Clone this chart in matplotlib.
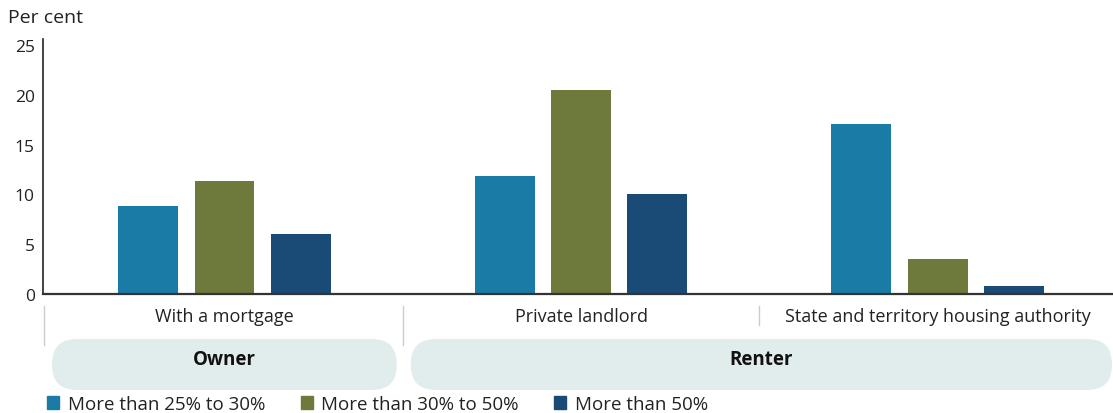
import matplotlib

matplotlib.use("Agg")
import matplotlib.pyplot as plt
import numpy as np
from matplotlib.patches import FancyBboxPatch, Patch

plt.rcParams["font.family"] = ["Open Sans", "DejaVu Sans"]

CATEGORIES = ["With a mortgage", "Private landlord", "State and territory housing authority"]
GROUPS = ["Owner", "Renter"]
GROUP_SPANS = [(0, 0), (1, 2)]   # category index range per tenure group
SERIES = ["More than 25% to 30%", "More than 30% to 50%", "More than 50%"]
VALUES = {
    "More than 25% to 30%": [8.8, 11.8, 17.1],
    "More than 30% to 50%": [11.3, 20.5, 3.5],
    "More than 50%": [6.0, 10.0, 0.8],
}
COLORS = ["#1a7ca6", "#6e7a3c", "#194b76"]
YTICKS = [0, 5, 10, 15, 20, 25]

W, H = 1113, 414
AX_LEFT = 43   # px, left spine
fig = plt.figure(figsize=(W / 100, H / 100), dpi=100)
ax = fig.add_axes([AX_LEFT / W, 1 - 295 / H, 1 - AX_LEFT / W, (295 - 40) / H])

x = np.arange(len(CATEGORIES))
step = 0.214
for i, (name, col) in enumerate(zip(SERIES, COLORS)):
    ax.bar(x + (i - 1) * step, VALUES[name], width=0.168, color=col, label=name, zorder=2)

ax.set_xlim(-0.509, 2.492)
ax.set_ylim(0, 25.6)
ax.set_yticks(YTICKS)
ax.set_yticklabels([str(t) for t in YTICKS], fontsize=12.5, color="#222222")
ax.set_xticks([])
ax.tick_params(axis="y", length=0, pad=6)
for s in ["top", "right"]:
    ax.spines[s].set_visible(False)
ax.spines["left"].set_color("#222222")
ax.spines["left"].set_linewidth(1.2)
ax.spines["bottom"].set_color("#333333")
ax.spines["bottom"].set_linewidth(1.6)

fig.text(8 / W, 1 - 18 / H, "Per cent", fontsize=14, color="#222222", va="center", ha="left")

# ── pixel overlay for category labels, separators and group pills ──
ov = fig.add_axes([0, 0, 1, 1])
ov.set_xlim(0, W)
ov.set_ylim(H, 0)
ov.axis("off")
ov.patch.set_alpha(0)


def to_px(xd):
    x0, x1 = ax.get_xlim()
    return AX_LEFT + (xd - x0) / (x1 - x0) * (W - AX_LEFT)


for i, cat in enumerate(CATEGORIES):
    ov.text(to_px(i), 317, cat, ha="center", va="center", fontsize=13, color="#222222")

# separators: full height at group boundaries, short inside a group
for k, b in enumerate(np.arange(len(CATEGORIES)) - 0.5):
    full = any(abs(b - (lo - 0.5)) < 1e-9 for lo, _ in GROUP_SPANS)
    xp = AX_LEFT + 0.5 if k == 0 else to_px(b)
    ov.plot([xp, xp], [307, 346 if full else 326], color="#cccccc", lw=1)

for g, (lo, hi) in zip(GROUPS, GROUP_SPANS):
    left = (AX_LEFT + 9) if lo == 0 else to_px(lo - 0.5) + 8
    right = min(to_px(hi + 0.5), W) - (6 if hi < len(CATEGORIES) - 1 else 1)
    ov.add_patch(FancyBboxPatch((left, 340), right - left, 51,
                                boxstyle="round,pad=0,rounding_size=25",
                                fc="#e1eded", ec="none"))
    ov.text((left + right) / 2, 360, g, ha="center", va="center",
            fontsize=13.5, fontweight="bold", color="#111111")

handles = [Patch(color=c, label=s) for s, c in zip(SERIES, COLORS)]
fig.legend(handles=handles, loc="center left", bbox_to_anchor=(30 / W, 1 - 405 / H),
           ncol=3, frameon=False, fontsize=13.5, handlelength=0.65, handleheight=0.65,
           handletextpad=0.45, columnspacing=1.9, labelcolor="#222222")

fig.savefig("out.png", dpi=100)
